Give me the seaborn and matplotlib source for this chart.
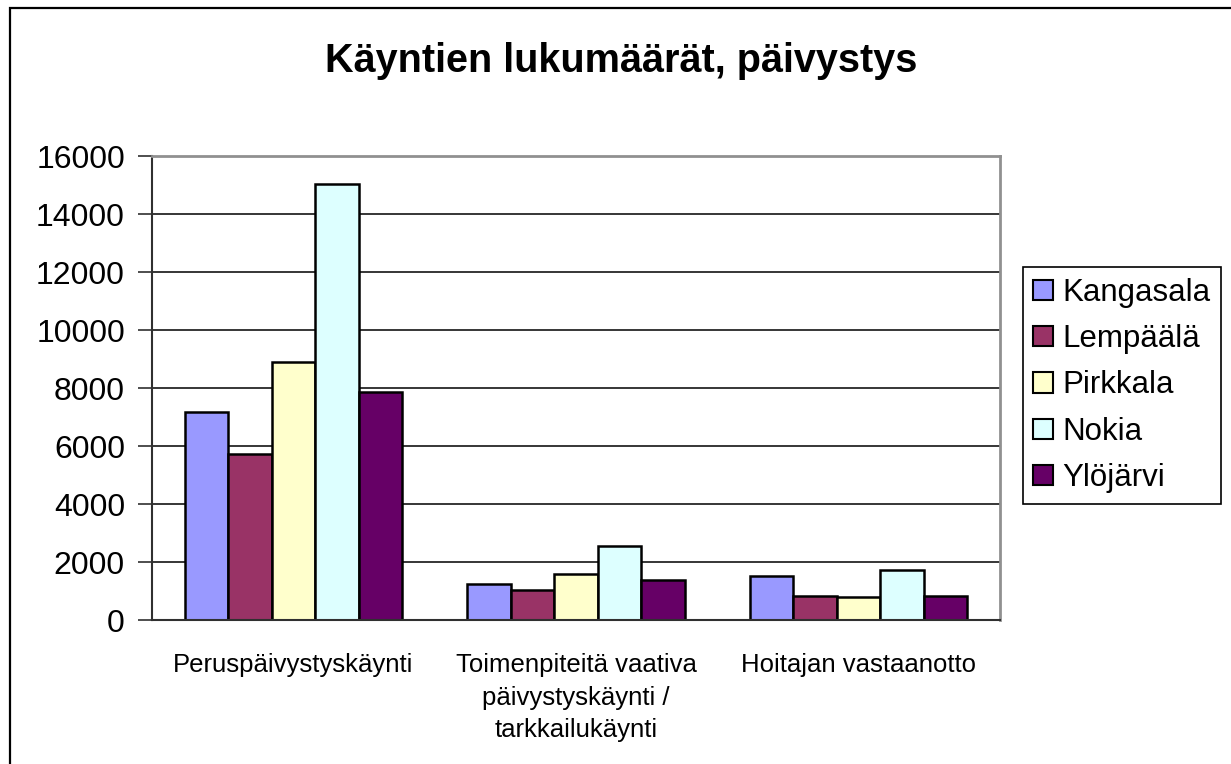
import matplotlib
matplotlib.use("Agg")
import matplotlib.pyplot as plt
import matplotlib.patches as mpatches
import seaborn as sns
import pandas as pd

categories = ["Peruspäivystyskäynti",
              "Toimenpiteitä vaativa\npäivystyskäynti /\ntarkkailukäynti",
              "Hoitajan vastaanotto"]
municipalities = ["Kangasala", "Lempäälä", "Pirkkala", "Nokia", "Ylöjärvi"]
kangasala = [7160, 1230, 1510]
lempaala = [5710, 1030, 830]
pirkkala = [8880, 1590, 810]
nokia = [15030, 2550, 1720]
ylojarvi = [7850, 1390, 830]
colors = ["#9999FF", "#993366", "#FFFFCC", "#DDFFFF", "#660066"]
yticks = [0, 2000, 4000, 6000, 8000, 10000, 12000, 14000, 16000]
title = "Käyntien lukumäärät, päivystys"

series = [kangasala, lempaala, pirkkala, nokia, ylojarvi]
rows = []
for m, vals in zip(municipalities, series):
    for c, v in zip(categories, vals):
        rows.append({"Kategoria": c, "Kunta": m, "Käynnit": v})
df = pd.DataFrame(rows)

sns.set_theme(style="white")
plt.rcParams["font.family"] = ["Liberation Sans", "DejaVu Sans"]
plt.rcParams["text.color"] = "black"

W, H = 1231, 764
fig = plt.figure(figsize=(W / 100, H / 100), dpi=100)
fig.patch.set_facecolor("white")
ax = fig.add_axes([152 / W, 1 - 620 / H, (1000 - 152) / W, (620 - 156) / H])

sns.barplot(data=df, x="Kategoria", y="Käynnit", hue="Kunta",
            order=categories, hue_order=municipalities,
            palette=colors, width=0.77, saturation=1,
            edgecolor="black", linewidth=1.8, ax=ax, legend=True)

handles, labels = ax.get_legend_handles_labels()
if ax.get_legend() is not None:
    ax.get_legend().remove()

ax.set_ylim(0, 16000)
ax.set_xlim(-0.5, 2.5)
ax.set_yticks(yticks)
ax.set_yticklabels([str(t) for t in yticks], fontsize=23, color="black")
ax.set_xlabel("")
ax.set_ylabel("")
ax.set_xticks(range(len(categories)))
ax.set_xticklabels(categories, fontsize=18.5, color="black", linespacing=1.45)
ax.tick_params(axis="x", which="major", length=0, pad=24)
ax.set_xticks([-0.5, 0.5, 1.5, 2.5], minor=True)
ax.tick_params(axis="x", which="minor", length=8, width=1.2, color="#303030", direction="out")
ax.tick_params(axis="y", which="major", length=10, width=1.2, color="#303030",
               direction="out", pad=9.5, left=True)

ax.yaxis.grid(True, color="black", linewidth=1.1)
ax.xaxis.grid(False)
ax.set_axisbelow(True)
for s in ["top", "right"]:
    ax.spines[s].set_color("#909090")
    ax.spines[s].set_linewidth(2)
for s in ["left", "bottom"]:
    ax.spines[s].set_color("#303030")
    ax.spines[s].set_linewidth(1.5)

fig.text(621 / W, 1 - 61 / H, title, ha="center", va="center",
         fontsize=28.5, fontweight="bold", color="black")

leg = fig.legend(handles, labels, loc="upper left",
                 bbox_to_anchor=(1022.5 / W, 1 - 267 / H),
                 fontsize=22.5, frameon=True, fancybox=False,
                 edgecolor="black", framealpha=1, borderpad=0.35,
                 handlelength=0.62, handleheight=0.62, handletextpad=0.3,
                 labelspacing=0.52, borderaxespad=0, labelcolor="black")
leg.get_frame().set_linewidth(1.2)
for h in leg.legend_handles:
    h.set_edgecolor("black")
    h.set_linewidth(1.5)

border = mpatches.Rectangle((9.5 / W, -0.1), 1.2, 1 - 8.5 / H + 0.1,
                            transform=fig.transFigure, fill=False,
                            edgecolor="black", linewidth=1.6, clip_on=False)
fig.patches.append(border)

fig.savefig("out.png", dpi=100)
